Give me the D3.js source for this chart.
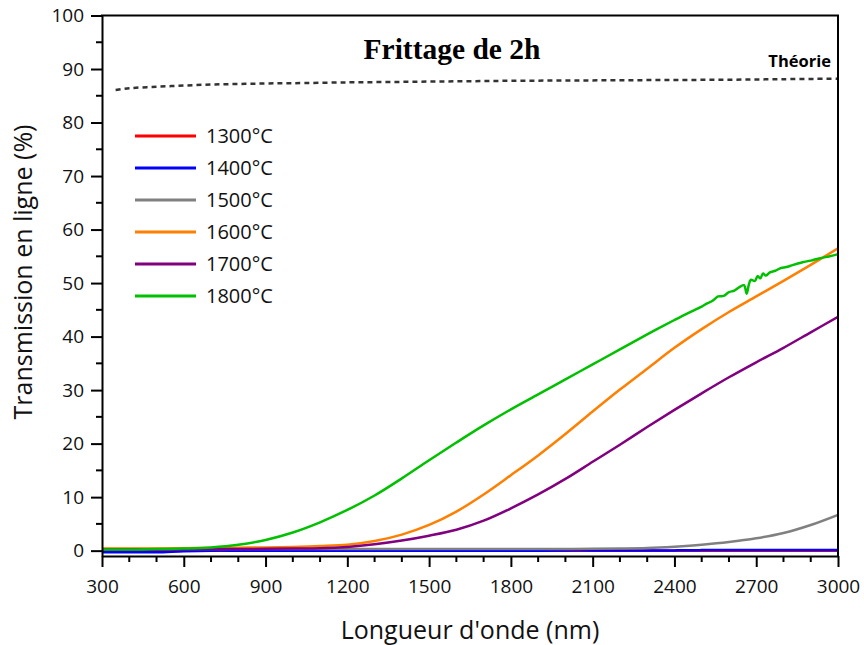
<!DOCTYPE html>
<html><head><meta charset="utf-8">
<script src="https://cdn.jsdelivr.net/npm/d3@7"></script>
<style>body{margin:0;background:#fff}svg{display:block}</style>
</head><body>
<svg id="c" width="864" height="645"></svg>
<script>
// ---- data ----
const wavelengths = [300,400,500,600,700,800,900,1000,1100,1200,1300,1400,1500,1600,1700,1800,1900,2000,2100,2200,2300,2400,2500,2600,2700,2800,2900,3000];
const s1300 = [0,0,0,0,0,0,0,0,0,0,0,0,0,0,0,0,0,0,0,0,0,0,0,0,0,0,0,0];
const s1400 = [-0.3,-0.3,-0.3,-0.1,0,0,0,0,0,0,0,0,0,0,0,0,0,0.05,0.05,0.05,0.05,0.05,0.1,0.1,0.1,0.1,0.1,0.1];
const s1500 = [0.3,0.3,0.3,0.3,0.3,0.3,0.3,0.3,0.3,0.3,0.3,0.3,0.3,0.3,0.3,0.3,0.3,0.3,0.35,0.4,0.5,0.75,1.1,1.6,2.3,3.3,4.8,6.7];
const s1600 = [0.4,0.4,0.4,0.45,0.5,0.55,0.6,0.7,0.85,1.1,1.8,3.0,4.8,7.3,10.5,14.1,17.8,21.8,26.0,30.1,34.0,37.9,41.4,44.6,47.5,50.4,53.4,56.5];
const s1700 = [0.2,0.2,0.2,0.25,0.3,0.3,0.35,0.4,0.45,0.7,1.2,1.9,2.8,3.9,5.6,7.9,10.5,13.4,16.6,19.8,23.1,26.3,29.4,32.4,35.2,37.9,40.8,43.7];
const wl1800 = [300,400,500,600,700,800,900,1000,1100,1200,1300,1400,1500,1600,1700,1800,1900,2000,2100,2200,2300,2400,2450,2500,2520,2540,2560,2580,2600,2620,2640,2655,2665,2672,2680,2695,2705,2715,2725,2735,2750,2770,2790,2810,2830,2850,2870,2900,2930,2960,3000];
const s1800 = [0.2,0.2,0.3,0.4,0.6,1.1,2.0,3.4,5.3,7.6,10.3,13.5,16.9,20.2,23.4,26.4,29.2,32.0,34.8,37.6,40.4,43.1,44.4,45.6,46.2,46.7,47.5,47.6,48.3,48.6,49.3,49.6,48.0,49.5,50.6,50.4,51.3,50.9,51.8,51.4,52.0,52.3,52.8,53.0,53.3,53.6,53.9,54.2,54.6,54.9,55.4];
const wlTheory = [350,400,500,600,700,800,900,1000,1200,1400,1600,1800,2000,2200,2400,2600,2800,3000];
const theory = [86.1,86.4,86.7,86.9,87.1,87.2,87.3,87.35,87.5,87.6,87.7,87.8,87.85,87.9,87.95,88.0,88.1,88.2];
const seriesNames = ["1300°C","1400°C","1500°C","1600°C","1700°C","1800°C"];
const seriesColors = ["#ff0000","#0000ff","#808080","#ff7f00","#800080","#00c000"];
const xTicks = [300,600,900,1200,1500,1800,2100,2400,2700,3000];
const yTicks = [0,10,20,30,40,50,60,70,80,90,100];

// ---- layout ----
const svg = d3.select("#c");
const L=102, R=838, T=15.5, B=556;
const x = d3.scaleLinear().domain([300,3000]).range([L,R]);
const y = d3.scaleLinear().domain([-1,100]).range([B,T]);
const font = "'Open Sans', sans-serif";

const series = [
  {name:seriesNames[0], color:seriesColors[0], xs:wavelengths, ys:s1300},
  {name:seriesNames[1], color:seriesColors[1], xs:wavelengths, ys:s1400},
  {name:seriesNames[2], color:seriesColors[2], xs:wavelengths, ys:s1500},
  {name:seriesNames[3], color:seriesColors[3], xs:wavelengths, ys:s1600},
  {name:seriesNames[4], color:seriesColors[4], xs:wavelengths, ys:s1700},
  {name:seriesNames[5], color:seriesColors[5], xs:wl1800, ys:s1800}
];

svg.append("defs").append("clipPath").attr("id","clip")
  .append("rect").attr("x",L).attr("y",T).attr("width",R-L).attr("height",B-T);

const line = d3.line().x(d=>x(d[0])).y(d=>y(d[1])).curve(d3.curveCatmullRom.alpha(0.5));
const g = svg.append("g").attr("clip-path","url(#clip)");
series.forEach(s=>{
  g.append("path").datum(s.xs.map((v,i)=>[v,s.ys[i]]))
   .attr("d",line).attr("fill","none").attr("stroke",s.color).attr("stroke-width",2.5)
   .attr("stroke-linejoin","round");
});
g.append("path").datum(wlTheory.map((v,i)=>[v,theory[i]]))
  .attr("d",line).attr("fill","none").attr("stroke","#333").attr("stroke-width",2.5)
  .attr("stroke-dasharray","5,4");

// axes
const xAxis = d3.axisBottom(x).tickValues(xTicks).tickSize(11).tickSizeOuter(0).tickFormat(d3.format("d"));
const gx = svg.append("g").attr("transform",`translate(0,${B})`).call(xAxis);
gx.selectAll(".tick line").attr("stroke","#000").attr("stroke-width",2);
gx.select(".domain").attr("stroke","#000").attr("stroke-width",2);
gx.selectAll("text").attr("font-family",font).attr("font-size",19).attr("fill","#111").attr("dy","1.2em");
const xMinor = d3.range(400,3000,100).filter(v=>v%300!==0);
svg.append("g").selectAll("line").data(xMinor).join("line")
  .attr("x1",d=>x(d)).attr("x2",d=>x(d)).attr("y1",B).attr("y2",B+6).attr("stroke","#000").attr("stroke-width",2);

const yAxis = d3.axisLeft(y).tickValues(yTicks).tickSize(11).tickSizeOuter(0);
const gy = svg.append("g").attr("transform",`translate(${L},0)`).call(yAxis);
gy.selectAll(".tick line").attr("stroke","#000").attr("stroke-width",2);
gy.select(".domain").attr("stroke","#000").attr("stroke-width",2);
gy.selectAll("text").attr("font-family",font).attr("font-size",19).attr("fill","#111").attr("x",-18);
const yMinor = d3.range(5,100,10);
svg.append("g").selectAll("line").data(yMinor).join("line")
  .attr("x1",L-6).attr("x2",L).attr("y1",d=>y(d)).attr("y2",d=>y(d)).attr("stroke","#000").attr("stroke-width",2);

// frame top/right
svg.append("line").attr("x1",L-1).attr("x2",R+1).attr("y1",T).attr("y2",T).attr("stroke","#000").attr("stroke-width",2);
svg.append("line").attr("x1",R).attr("x2",R).attr("y1",T).attr("y2",B).attr("stroke","#000").attr("stroke-width",2);

// titles
svg.append("text").attr("x",452).attr("y",59).attr("text-anchor","middle")
  .attr("font-family","'Liberation Serif', 'Times New Roman', serif").attr("font-weight","bold").attr("font-size",29.5)
  .text("Frittage de 2h");
svg.append("text").attr("x",831).attr("y",66.5).attr("text-anchor","end")
  .attr("font-family",font).attr("font-weight","bold").attr("font-size",16.5).text("Théorie");
svg.append("text").attr("x",470).attr("y",639).attr("text-anchor","middle")
  .attr("font-family",font).attr("font-size",25).attr("fill","#111").text("Longueur d'onde (nm)");
svg.append("text").attr("transform","translate(32,272) rotate(-90)").attr("text-anchor","middle")
  .attr("font-family",font).attr("font-size",25).attr("fill","#111").text("Transmission en ligne (%)");

// legend
const leg = svg.append("g");
series.forEach((s,i)=>{
  const yy = 136 + i*32;
  leg.append("line").attr("x1",135).attr("x2",196).attr("y1",yy).attr("y2",yy).attr("stroke",s.color).attr("stroke-width",3);
  leg.append("text").attr("x",206).attr("y",yy+7).attr("font-family",font).attr("font-size",20).attr("fill","#111").text(s.name);
});
</script>
</body></html>
